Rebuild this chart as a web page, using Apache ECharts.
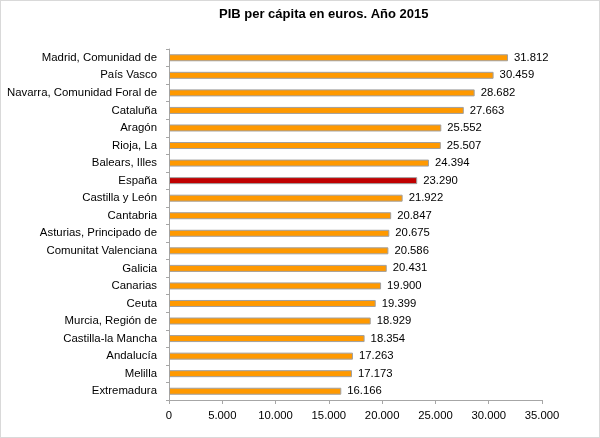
<!doctype html>
<html>
<head>
    <meta charset="UTF-8">
    <title>PIB per cápita</title>
    <script src="https://cdn.jsdelivr.net/npm/echarts@6/dist/echarts.min.js"></script>
    <style>
        html, body { margin: 0; padding: 0; background: #fff; }
        #main { width: 600px; height: 438px; box-sizing: border-box; border: 1px solid #d9d9d9; }
    </style>
</head>
<body>
<div id="main"></div>
<script>
    var regiones = ['Madrid, Comunidad de', 'País Vasco', 'Navarra, Comunidad Foral de', 'Cataluña', 'Aragón',
        'Rioja, La', 'Balears, Illes', 'España', 'Castilla y León', 'Cantabria', 'Asturias, Principado de',
        'Comunitat Valenciana', 'Galicia', 'Canarias', 'Ceuta', 'Murcia, Región de', 'Castilla-la Mancha',
        'Andalucía', 'Melilla', 'Extremadura'];
    var pib = [31812, 30459, 28682, 27663, 25552, 25507, 24394, 23290, 21922, 20847, 20675,
        20586, 20431, 19900, 19399, 18929, 18354, 17263, 17173, 16166];
    var destacado = 'España';

    // separador de miles con punto
    var fmt = function (v) {
        return String(v).replace(/\B(?=(\d{3})+(?!\d))/g, '.');
    };

    var data = pib.map(function (v, i) {
        return {
            value: v,
            itemStyle: {color: regiones[i] === destacado ? '#c00000' : '#ff9900'}
        };
    });

    var chart = echarts.init(document.getElementById('main'));
    chart.setOption({
        animation: false,
        textStyle: {fontFamily: 'Liberation Sans, Arial, sans-serif'},
        title: {
            text: 'PIB per cápita en euros. Año 2015',
            left: 213,
            top: 2,
            textStyle: {fontSize: 13, fontWeight: 'bold', color: '#000', fontFamily: 'Liberation Sans, Arial, sans-serif'}
        },
        grid: {left: 168, right: 57, top: 48, bottom: 37},
        xAxis: {
            type: 'value',
            min: 0,
            max: 35000,
            interval: 5000,
            splitLine: {show: false},
            axisLine: {show: true, lineStyle: {color: '#a6a6a6'}},
            axisTick: {show: true, length: 4, lineStyle: {color: '#a6a6a6'}},
            axisLabel: {color: '#000', fontSize: 11.3, margin: 10, formatter: fmt}
        },
        yAxis: {
            type: 'category',
            inverse: true,
            data: regiones,
            axisLine: {show: true, lineStyle: {color: '#a6a6a6'}},
            axisTick: {show: true, length: 3, lineStyle: {color: '#a6a6a6'}},
            axisLabel: {color: '#000', fontSize: 11.4, margin: 12}
        },
        series: [{
            type: 'bar',
            data: data,
            barWidth: 7,
            itemStyle: {borderColor: '#a0a0a0', borderWidth: 1},
            label: {
                show: true,
                position: 'right',
                distance: 6,
                color: '#000',
                fontSize: 11.3,
                formatter: function (p) { return fmt(p.value); }
            }
        }]
    });
</script>
</body>
</html>
